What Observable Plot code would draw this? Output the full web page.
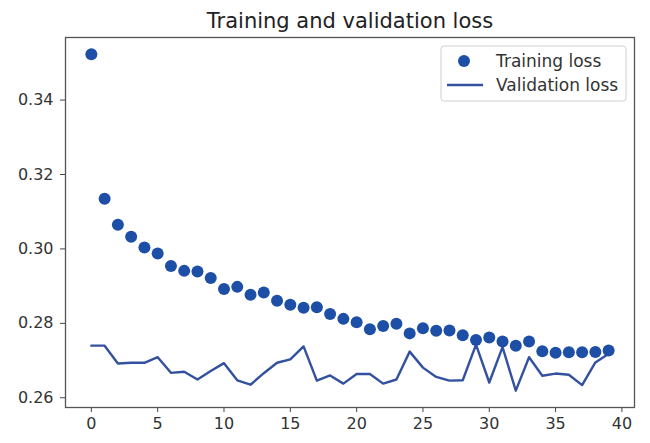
<!DOCTYPE html>
<html>
<head>
<meta charset="utf-8">
<script src="https://cdn.jsdelivr.net/npm/d3@7"></script>
<script src="https://cdn.jsdelivr.net/npm/@observablehq/plot@0.6"></script>
<style>
  html, body { margin: 0; padding: 0; background: #fff; }
  svg { font-family: "DejaVu Sans", sans-serif; }
</style>
</head>
<body>
<div id="chart"></div>
<script>
const title = "Training and validation loss";
const seriesNames = ["Training loss", "Validation loss"];
const epochs = d3.range(0, 40);
const trainingLoss = [
  0.3523, 0.3135, 0.3065, 0.3033, 0.3004, 0.2988, 0.2954, 0.2941, 0.2939, 0.2922,
  0.2892, 0.2898, 0.2877, 0.2883, 0.2861, 0.2850, 0.2842, 0.2843, 0.2825, 0.2812,
  0.2803, 0.2784, 0.2793, 0.2799, 0.2773, 0.2787, 0.2780, 0.2781, 0.2768, 0.2755,
  0.2762, 0.2751, 0.2740, 0.2751, 0.2725, 0.2721, 0.2722, 0.2722, 0.2723, 0.2727
];
const validationLoss = [
  0.2740, 0.2740, 0.2692, 0.2694, 0.2694, 0.2709, 0.2667, 0.2670, 0.2649, 0.2672,
  0.2693, 0.2647, 0.2635, 0.2666, 0.2694, 0.2703, 0.2738, 0.2646, 0.2660, 0.2638,
  0.2664, 0.2664, 0.2638, 0.2649, 0.2724, 0.2681, 0.2656, 0.2646, 0.2647, 0.2743,
  0.2641, 0.2736, 0.2619, 0.2709, 0.2659, 0.2665, 0.2662, 0.2634, 0.2695, 0.2718
];
const xTicks = [0, 5, 10, 15, 20, 25, 30, 35, 40];
const yTicks = [0.26, 0.28, 0.30, 0.32, 0.34];

const train = epochs.map((e, i) => ({epoch: e, loss: trainingLoss[i]}));
const val = epochs.map((e, i) => ({epoch: e, loss: validationLoss[i]}));

const dotColor = "#1d4fa6";
const lineColor = "#33519f";
const textColor = "#333";

// matplotlib-like 5% margins
const allY = trainingLoss.concat(validationLoss);
const yMin = d3.min(allY), yMax = d3.max(allY);
const yPad = (yMax - yMin) * 0.05;
const xPad = (d3.max(epochs) - d3.min(epochs)) * 0.05;

const chart = Plot.plot({
  width: 650,
  height: 443,
  marginLeft: 65,
  marginRight: 16,
  marginTop: 37,
  marginBottom: 36,
  style: {fontFamily: "DejaVu Sans, sans-serif", fontSize: "16px", color: textColor, background: "#fff"},
  x: {domain: [d3.min(epochs) - xPad, d3.max(epochs) + xPad]},
  y: {domain: [yMin - yPad, yMax + yPad]},
  marks: [
    Plot.axisX({ticks: xTicks, tickSize: 5, tickPadding: 5, tickFormat: d3.format("d"), label: null, stroke: "#444", fill: textColor, fontSize: 16}),
    Plot.axisY({ticks: yTicks, tickSize: 5, tickPadding: 7, tickFormat: d3.format(".2f"), label: null, stroke: "#444", fill: textColor, fontSize: 16}),
    Plot.line(val, {x: "epoch", y: "loss", stroke: lineColor, strokeWidth: 2.4}),
    Plot.dot(train, {x: "epoch", y: "loss", r: 6, fill: dotColor, stroke: "none"}),
    Plot.frame({stroke: "#555", strokeWidth: 1.3}),
    Plot.text([title], {frameAnchor: "top", lineAnchor: "middle", dy: -16, fontSize: 21, fill: "#222", text: d => d})
  ]
});

// Legend (layout only)
const svg = d3.select(chart);
const lg = svg.append("g").attr("transform", "translate(441,46)");
lg.append("rect").attr("width", 185).attr("height", 55).attr("rx", 3)
  .attr("fill", "#fff").attr("fill-opacity", 0.8).attr("stroke", "#d0d0d0");
lg.append("circle").attr("cx", 23).attr("cy", 15).attr("r", 6).attr("fill", dotColor);
lg.append("line").attr("x1", 6).attr("x2", 42).attr("y1", 39).attr("y2", 39)
  .attr("stroke", lineColor).attr("stroke-width", 2.4);
lg.selectAll("text.lbl").data(seriesNames).join("text")
  .attr("class", "lbl")
  .attr("x", 55).attr("y", (d, i) => 15 + i * 24).attr("dy", "0.35em")
  .attr("text-anchor", "start")
  .attr("font-size", 17).attr("fill", textColor).text(d => d);

document.getElementById("chart").appendChild(chart);
</script>
</body>
</html>
